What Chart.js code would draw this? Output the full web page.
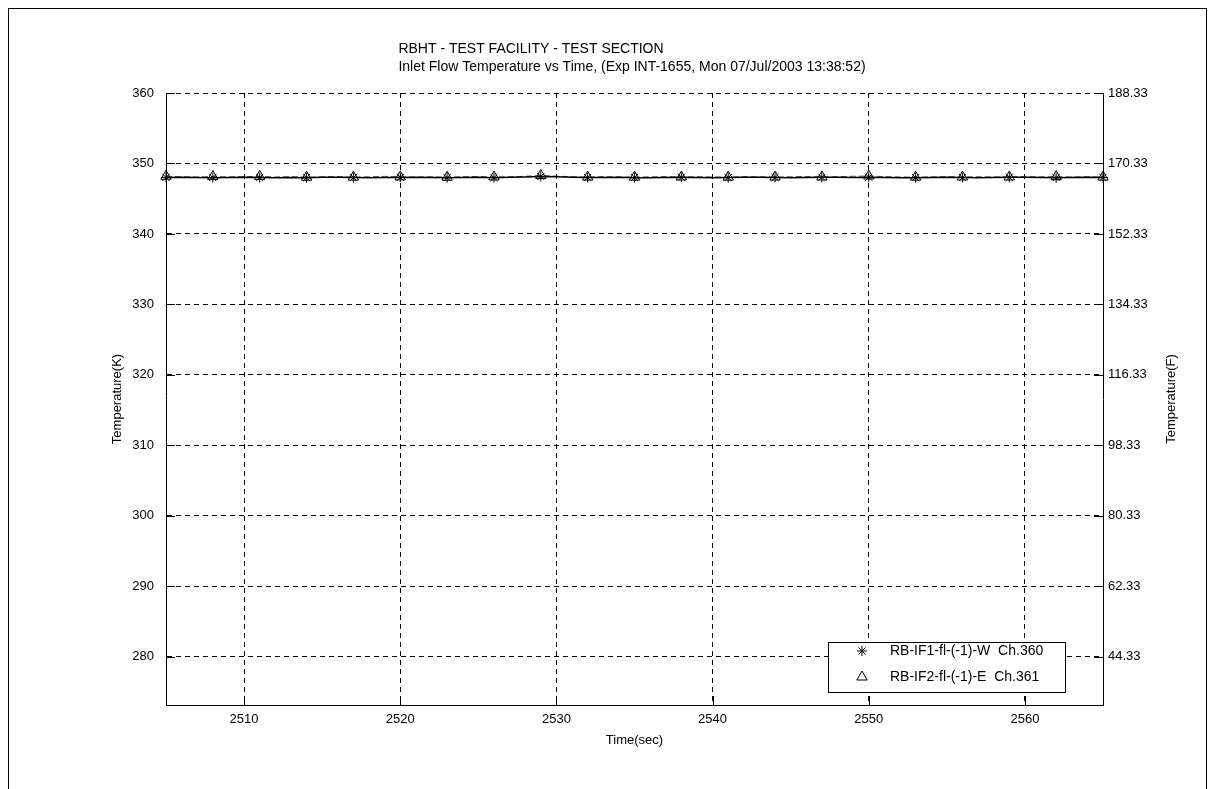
<!DOCTYPE html>
<html>
<head>
<meta charset="utf-8">
<title>RBHT - Inlet Flow Temperature</title>
<script src="https://cdn.jsdelivr.net/npm/chart.js@4.4.0/dist/chart.umd.min.js"></script>
<style>
  html, body { margin: 0; padding: 0; background: #fff; overflow: hidden; }
  #wrap { position: relative; width: 1215px; height: 789px; }
  #frame { position: absolute; left: 8px; top: 8px; width: 1199px; height: 800px; border: 1px solid #000; box-sizing: border-box; }
  #chart { position: absolute; left: 0; top: 0; }
</style>
</head>
<body>
<div id="wrap">
  <div id="frame"></div>
  <canvas id="chart" width="1215" height="789"></canvas>
</div>
<script>
// time axis (sec)
const times = [
  2505, 2506, 2507, 2508, 2509, 2510, 2511, 2512, 2513, 2514,
  2515, 2516, 2517, 2518, 2519, 2520, 2521, 2522, 2523, 2524,
  2525, 2526, 2527, 2528, 2529, 2530, 2531, 2532, 2533, 2534,
  2535, 2536, 2537, 2538, 2539, 2540, 2541, 2542, 2543, 2544,
  2545, 2546, 2547, 2548, 2549, 2550, 2551, 2552, 2553, 2554,
  2555, 2556, 2557, 2558, 2559, 2560, 2561, 2562, 2563, 2564,
  2565
];

// RB-IF1-fl-(-1)-W  Ch.360 (K)
const tempW = [
  348.02, 348.04, 348.01, 347.99, 348.02, 348.05, 348.01, 347.98, 348.00, 347.97,
  348.03, 348.06, 348.00, 347.97, 348.01, 348.02, 348.05, 348.02, 347.98, 348.00,
  348.03, 347.99, 348.04, 348.08, 348.15, 348.10, 348.03, 348.00, 348.02, 348.05,
  347.99, 347.97, 348.01, 348.04, 348.02, 347.99, 348.00, 348.03, 348.05, 348.01,
  347.98, 348.00, 348.03, 348.06, 348.02, 348.04, 348.01, 347.98, 347.99, 348.02,
  348.05, 348.01, 347.98, 348.00, 348.03, 348.06, 348.02, 347.99, 348.01, 348.04,
  348.00
];

// RB-IF2-fl-(-1)-E  Ch.361 (K)
const tempE = [
  348.18, 348.12, 348.08, 348.15, 348.10, 348.14, 348.16, 348.09, 348.13, 348.05,
  348.11, 348.15, 348.06, 348.12, 348.17, 348.10, 348.07, 348.12, 348.05, 348.13,
  348.16, 348.08, 348.11, 348.18, 348.30, 348.20, 348.12, 348.07, 348.14, 348.10,
  348.06, 348.11, 348.15, 348.08, 348.12, 348.09, 348.06, 348.14, 348.11, 348.07,
  348.12, 348.16, 348.08, 348.13, 348.18, 348.22, 348.14, 348.09, 348.06, 348.11,
  348.15, 348.08, 348.12, 348.10, 348.09, 348.14, 348.11, 348.13, 348.08, 348.12,
  348.07
];

const seriesLabels = ['RB-IF1-fl-(-1)-W  Ch.360', 'RB-IF2-fl-(-1)-E  Ch.361'];
const timeTicks = [2510, 2520, 2530, 2540, 2550, 2560];
const kelvinTicks = [280, 290, 300, 310, 320, 330, 340, 350, 360];
const fahrenheitLabels = ['44.33', '62.33', '80.33', '98.33', '116.33', '134.33', '152.33', '170.33', '188.33'];
const titleLines = [
  'RBHT - TEST FACILITY - TEST SECTION',
  'Inlet Flow Temperature vs Time, (Exp INT-1655, Mon 07/Jul/2003 13:38:52)'
];
const xTitle = 'Time(sec)';
const yTitle = 'Temperature(K)';
const y2Title = 'Temperature(F)';

const FONT = '"Liberation Sans", Arial, sans-serif';

function markerRadius(size) {
  // MATLAB only marks every 3rd sample
  return ctx => (ctx.dataIndex % 3 === 0 ? size : 0);
}

const matlabLook = {
  id: 'matlabLook',
  afterDraw(chart) {
    const ctx = chart.ctx;
    const a = chart.chartArea;
    const xs = chart.scales.x;
    const ys = chart.scales.y;
    const midX = (a.left + a.right) / 2;
    const midY = (a.top + a.bottom) / 2;
    ctx.save();

    // inward tick marks
    ctx.strokeStyle = '#000';
    ctx.lineWidth = 1;
    ctx.setLineDash([]);
    ctx.beginPath();
    timeTicks.forEach(t => {
      const px = Math.round(xs.getPixelForValue(t)) + 0.5;
      ctx.moveTo(px, a.bottom);
      ctx.lineTo(px, a.bottom - 9);
    });
    kelvinTicks.forEach(v => {
      const py = Math.round(ys.getPixelForValue(v)) + 0.5;
      ctx.moveTo(a.left, py);
      ctx.lineTo(a.left + 9, py);
      ctx.moveTo(a.right, py);
      ctx.lineTo(a.right - 9, py);
    });
    ctx.stroke();

    // titles
    ctx.fillStyle = '#000';
    ctx.font = '14px ' + FONT;
    ctx.textAlign = 'center';
    ctx.textBaseline = 'middle';
    ctx.fillText(titleLines[0], 531, 49);
    ctx.fillText(titleLines[1], 632, 67);

    ctx.font = '13px ' + FONT;
    ctx.fillText(xTitle, midX, 740);

    ctx.save();
    ctx.translate(117, midY);
    ctx.rotate(-Math.PI / 2);
    ctx.fillText(yTitle, 0, 0);
    ctx.restore();

    ctx.save();
    ctx.translate(1171, midY);
    ctx.rotate(-Math.PI / 2);
    ctx.fillText(y2Title, 0, 0);
    ctx.restore();

    // legend box
    const box = { x: 828.5, y: 642.5, w: 237, h: 50 };
    ctx.fillStyle = '#fff';
    ctx.fillRect(box.x, box.y, box.w, box.h);
    ctx.strokeRect(box.x, box.y, box.w, box.h);
    const rows = [651, 677];
    ctx.font = '14px ' + FONT;
    chart.data.datasets.forEach((ds, i) => {
      ctx.strokeStyle = '#000';
      ctx.fillStyle = 'rgba(0,0,0,0)';
      ctx.lineWidth = 1;
      Chart.helpers.drawPoint(ctx, {
        pointStyle: ds.pointStyle,
        radius: i === 0 ? 5 : 6,
        rotation: 0,
        borderWidth: 1
      }, 862, rows[i]);
      ctx.fillStyle = '#000';
      ctx.textAlign = 'left';
      ctx.fillText(ds.label, 890, rows[i]);
    });
    ctx.restore();
  }
};

new Chart(document.getElementById('chart'), {
  type: 'line',
  data: {
    datasets: [
      {
        label: seriesLabels[0],
        data: times.map((t, i) => ({ x: t, y: tempW[i] })),
        borderColor: '#000',
        borderWidth: 1.5,
        pointStyle: 'star',
        pointRadius: markerRadius(5),
        pointBorderColor: '#000',
        pointBackgroundColor: 'rgba(0,0,0,0)',
        pointBorderWidth: 1,
        tension: 0,
        clip: false
      },
      {
        label: seriesLabels[1],
        data: times.map((t, i) => ({ x: t, y: tempE[i] })),
        borderColor: '#555',
        borderWidth: 1,
        borderDash: [6, 3],
        pointStyle: 'triangle',
        pointRadius: markerRadius(6),
        pointBorderColor: '#000',
        pointBackgroundColor: 'rgba(0,0,0,0)',
        pointBorderWidth: 1,
        tension: 0,
        clip: false
      }
    ]
  },
  options: {
    responsive: false,
    animation: false,
    devicePixelRatio: 1,
    events: [],
    layout: { padding: { top: 93, left: 0, right: 0, bottom: 0 } },
    plugins: {
      legend: { display: false },
      tooltip: { enabled: false },
      title: { display: false }
    },
    scales: {
      x: {
        type: 'linear',
        min: 2505,
        max: 2565,
        afterBuildTicks: s => { s.ticks = timeTicks.map(v => ({ value: v })); },
        afterFit: s => { s.height = 84; },
        ticks: {
          callback: v => String(v),
          color: '#000',
          padding: 7,
          maxRotation: 0,
          font: { family: FONT, size: 13 }
        },
        grid: { color: '#000', lineWidth: 1, drawTicks: false },
        border: { display: true, color: '#000', width: 1, dash: [5, 4] }
      },
      y: {
        type: 'linear',
        position: 'left',
        min: 273.15,
        max: 360,
        afterBuildTicks: s => { s.ticks = kelvinTicks.map(v => ({ value: v })); },
        afterFit: s => { s.width = 166; },
        ticks: {
          callback: v => String(v),
          color: '#000',
          padding: 12,
          font: { family: FONT, size: 13 }
        },
        grid: { color: '#000', lineWidth: 1, drawTicks: false },
        border: { display: true, color: '#000', width: 1, dash: [5, 4] }
      },
      y2: {
        type: 'linear',
        position: 'right',
        min: 273.15,
        max: 360,
        afterBuildTicks: s => { s.ticks = kelvinTicks.map(v => ({ value: v })); },
        afterFit: s => { s.width = 112; },
        ticks: {
          callback: (v, i) => fahrenheitLabels[i],
          color: '#000',
          padding: 5,
          font: { family: FONT, size: 13 }
        },
        grid: { drawOnChartArea: false, drawTicks: false },
        border: { display: true, color: '#000', width: 1 }
      }
    }
  },
  plugins: [matlabLook]
});
</script>
</body>
</html>
